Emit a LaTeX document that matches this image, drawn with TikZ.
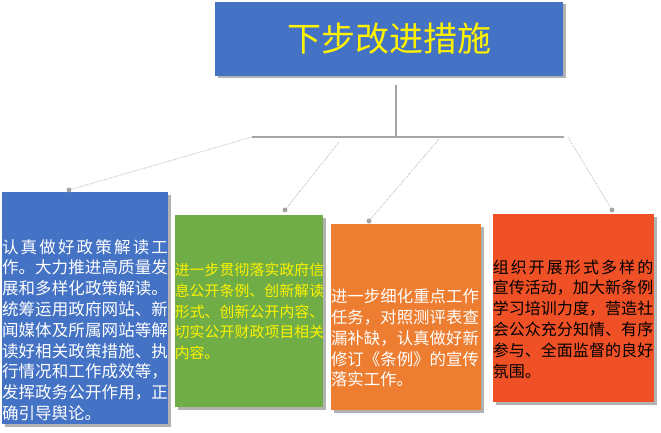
\documentclass[tikz,border=0pt]{standalone}
\usepackage{fontspec}
\setmainfont{Noto Sans CJK SC}
\usepackage{tikz}
\usetikzlibrary{shadows}
\definecolor{ppBlue}{HTML}{4472C4}
\definecolor{ppGreen}{HTML}{70AD47}
\definecolor{ppOrange}{HTML}{ED7D31}
\definecolor{ppRed}{HTML}{EF5025}
\definecolor{barGray}{HTML}{A5A5A5}
\definecolor{linkGray}{HTML}{B8B8B8}
\XeTeXlinebreaklocale "zh"
\XeTeXlinebreakskip=0pt plus 6pt
\hbadness=10000

\begin{document}
\begin{tikzpicture}[x=1pt,y=-1pt,
  box/.style={rectangle,draw=none,inner sep=0pt,
    drop shadow={shadow xshift=2.5pt,shadow yshift=-2.5pt,fill=black,opacity=0.3}},
  boxtext/.style={rectangle,draw=none,inner sep=0pt,align=justify},
  bar/.style={draw=barGray,line width=2pt},
  link/.style={draw=linkGray,densely dotted,line width=0.8pt},
  dot/.style={circle,fill=barGray,draw=none,inner sep=0pt,minimum size=5pt}]
\useasboundingbox (0,0) rectangle (661,433);

%% Title
\node[box,fill=ppBlue,minimum width=348pt,minimum height=74pt,text=yellow,
  font=\fontsize{34}{40}\selectfont] (title) at (389,39) {下步改进措施};

%% Bar
\coordinate (stem) at (396,85);
\coordinate (hub) at (396,137);
\coordinate (barL) at (252,137);
\coordinate (barR) at (564,137);
\draw[bar] (stem) -- (hub);
\draw[bar] (barL) -- (barR);

%% Boxes
\node[box,fill=ppBlue,minimum width=166pt,minimum height=232pt] (b1) at (85,308) {};
\node[box,fill=ppGreen,minimum width=148pt,minimum height=192pt] (b2) at (249,311) {};
\node[box,fill=ppOrange,minimum width=150pt,minimum height=186pt] (b3) at (406,317) {};
\node[box,fill=ppRed,minimum width=161pt,minimum height=188pt] (b4) at (573.5,308) {};

%% Texts
\node[boxtext,text width=166pt,text=white,font=\fontsize{16.5}{20.8}\selectfont] (t1) at (85,330) {%
认真做好政策解读工\linebreak
作。大力推进高质量发\linebreak
展和多样化政策解读。\linebreak
统筹运用政府网站、新\linebreak
闻媒体及所属网站等解\linebreak
读好相关政策措施、执\linebreak
行情况和工作成效等，\linebreak
发挥政务公开作用，正\linebreak
确引导舆论。};
\node[boxtext,text width=149.5pt,text=yellow,font=\fontsize{14.8}{20.8}\selectfont] (t2) at (249.5,311.5) {%
进一步贯彻落实政府信\linebreak
息公开条例、创新解读\linebreak
形式、创新公开内容、\linebreak
切实公开财政项目相关\linebreak
内容。};
\node[boxtext,text width=148pt,text=white,font=\fontsize{16.4}{20.8}\selectfont] (t3) at (405,338) {%
进一步细化重点工作\linebreak
任务，对照测评表查\linebreak
漏补缺，认真做好新\linebreak
修订《条例》的宣传\linebreak
落实工作。};
\node[boxtext,text width=160.5pt,text=black,font=\fontsize{16}{20.8}\selectfont] (t4) at (573,319) {%
组织开展形式多样的\linebreak
宣传活动，加大新条例\linebreak
学习培训力度，营造社\linebreak
会公众充分知情、有序\linebreak
参与、全面监督的良好\linebreak
氛围。};

%% Links
\coordinate (s2) at (339,142);
\coordinate (s3) at (439,139);
\coordinate (s4) at (568,137);
\node[dot] (d1) at (69,190) {};
\node[dot] (d2) at (285,210) {};
\node[dot] (d3) at (369,221) {};
\node[dot] (d4) at (612,210) {};
\draw[link] (barL) -- (d1);
\draw[link] (s2) -- (d2);
\draw[link] (s3) -- (d3);
\draw[link] (s4) -- (d4);

\end{tikzpicture}
\end{document}
